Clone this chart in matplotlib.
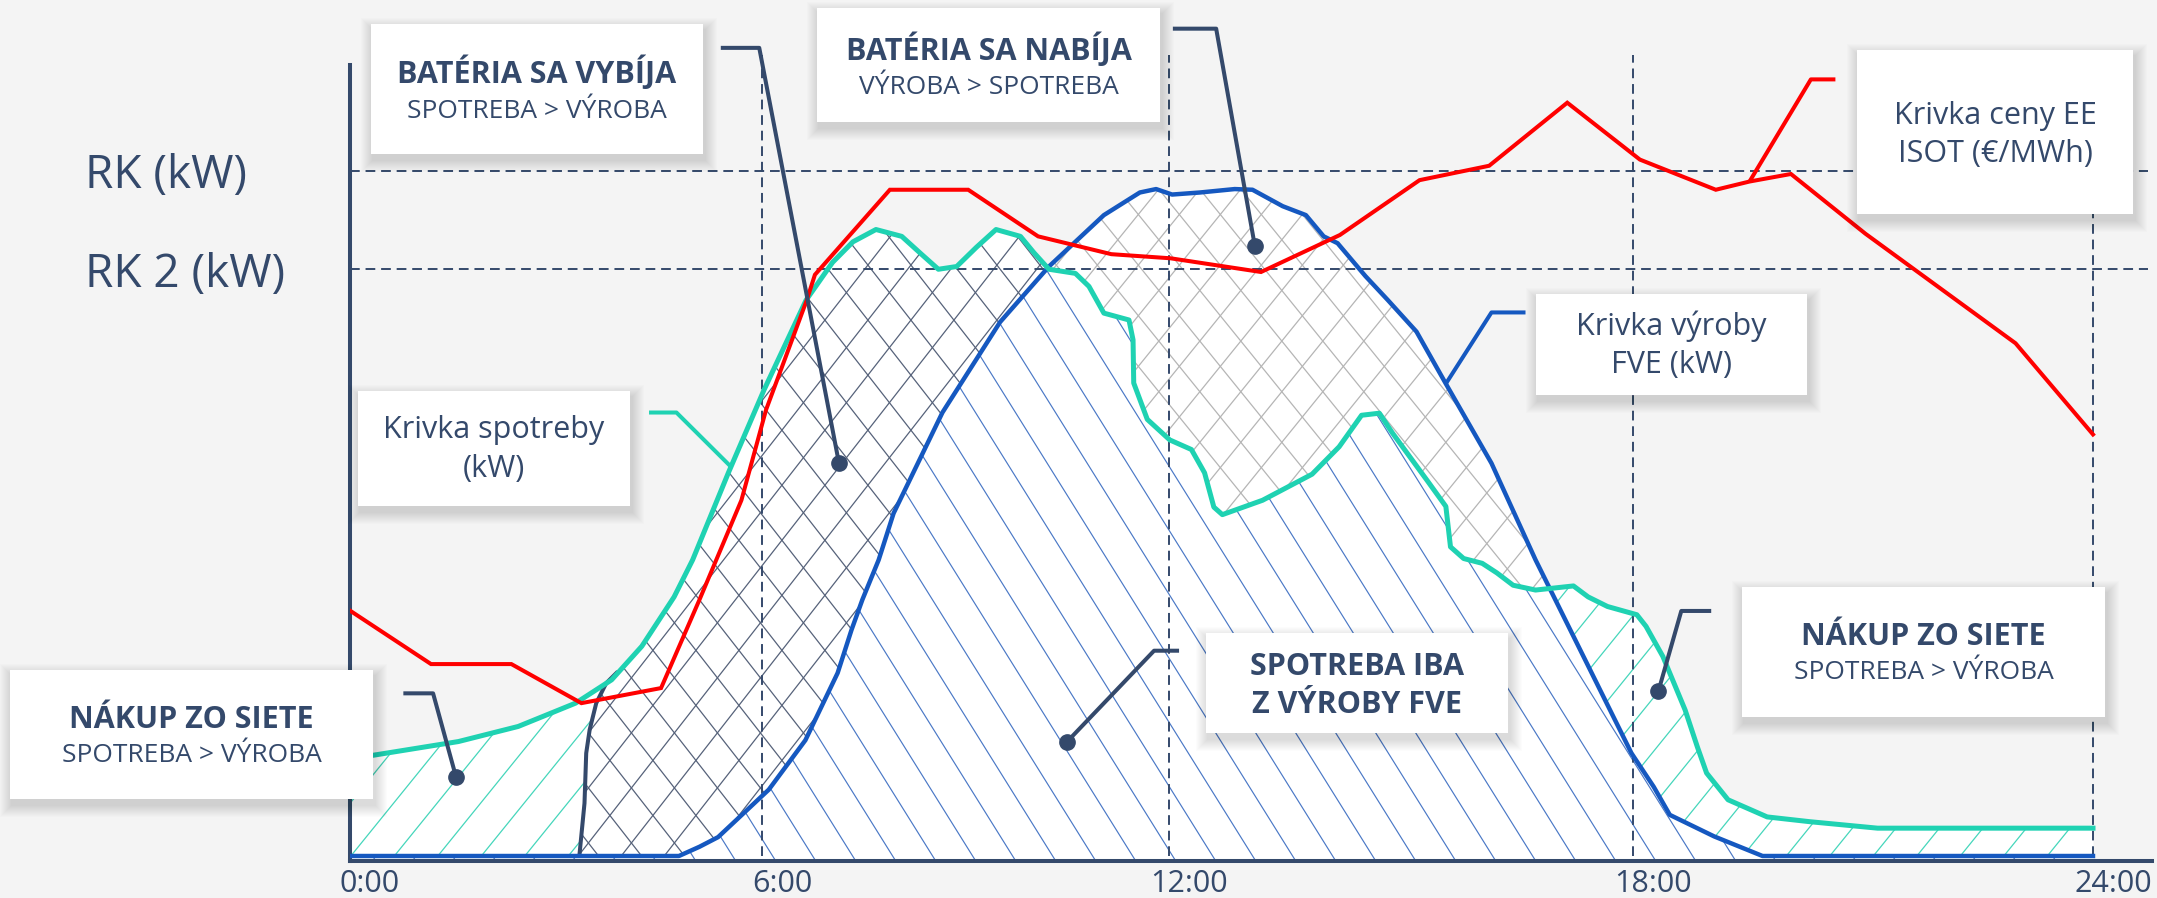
import numpy as np
import matplotlib
matplotlib.use("Agg")
import matplotlib.pyplot as plt
from matplotlib.patches import Rectangle, PathPatch
from matplotlib.path import Path
from matplotlib.collections import LineCollection
from matplotlib.transforms import IdentityTransform

plt.rcParams['font.family'] = ['Open Sans', 'DejaVu Sans']

# ------------------------------------------------------------------ data
hours_ticks = [0, 6, 12, 18, 24]
tick_labels = ["0:00", "6:00", "12:00", "18:00", "24:00"]
RK = 100.0
RK2 = 85.6
ref_labels = ["RK (kW)", "RK 2 (kW)"]

# consumption curve (kW, RK = 100)
cons_h = [0.0, 0.34, 1.58, 2.45, 3.285, 3.81, 4.25, 4.72, 4.99, 5.51, 6.03, 6.65, 7.04, 7.34, 7.68,
          8.06, 8.35, 8.60, 8.87, 9.16, 9.45, 9.81, 10.01, 10.23, 10.62, 10.82, 11.04, 11.41, 11.47,
          11.48, 11.68, 12.01, 12.29, 12.46, 12.58, 12.69, 13.21, 13.85, 14.20, 14.49, 14.72, 14.89,
          15.35, 15.58, 15.64, 15.81, 16.05, 16.24, 16.45, 16.74, 17.23, 17.42, 17.67, 18.05, 18.17,
          18.39, 18.68, 18.84, 18.96, 19.24, 19.75, 20.31, 21.19, 24.0]
cons_v = [14.5, 14.7, 16.7, 18.9, 22.3, 25.7, 30.6, 37.8, 43.2, 55.9, 68.0, 81.1, 86.6, 89.6, 91.4,
          90.4, 87.8, 85.6, 86.0, 88.8, 91.4, 90.4, 88.0, 85.6, 85.0, 83.1, 79.2, 78.2, 75.3,
          69.0, 63.7, 60.7, 59.3, 55.9, 50.9, 49.8, 51.9, 55.7, 59.7, 64.3, 64.6, 61.7,
          54.6, 51.0, 45.1, 43.4, 42.7, 41.3, 39.5, 38.8, 39.4, 37.8, 36.4, 35.2, 33.5,
          29.1, 21.3, 15.9, 12.1, 8.2, 5.7, 5.0, 4.06, 4.06]

# PV production curve
pv_h = [0.0, 4.79, 5.09, 5.36, 6.10, 6.64, 7.115, 7.32, 7.48, 7.72, 7.94, 8.66, 9.51, 10.23, 11.04,
        11.57, 11.81, 12.04, 12.40, 12.85, 13.08, 13.47, 13.77, 14.00, 14.18, 14.54, 14.83, 15.20,
        15.58, 16.17, 16.74, 17.98, 18.27, 18.48, 19.06, 19.69, 24.0]
pv_v = [0.0, 0.0, 1.35, 2.75, 9.68, 16.9, 26.7, 33.0, 37.4, 43.2, 50.0, 64.7, 77.9, 86.0, 93.5,
        96.8, 97.3, 96.5, 96.8, 97.3, 97.2, 94.8, 93.5, 90.4, 89.4, 84.6, 81.1, 76.5,
        68.9, 57.3, 43.2, 15.0, 10.1, 6.0, 2.85, 0.0, 0.0]

# price curve (schematic, same scale)
price_h = [0.0, 1.18, 2.35, 3.37, 4.53, 5.09, 5.70, 6.06, 6.66, 6.78, 7.885, 9.04, 10.07, 11.15,
           12.02, 13.19, 14.21, 15.24, 16.14, 17.15, 18.09, 19.08, 19.52, 20.06, 21.03, 22.99, 24.0]
price_v = [35.8, 28.0, 28.0, 22.3, 24.5, 37.4, 51.9, 65.1, 81.1, 84.8, 97.2, 97.2, 90.4, 87.8,
           87.2, 85.2, 90.6, 98.6, 100.7, 109.9, 101.6, 97.2, 98.4, 99.5, 90.8, 74.8, 61.5]

# battery discharge start boundary
batt_h = [3.34, 3.415, 3.44, 3.49, 3.586, 3.73, 3.90]
batt_v = [0.0, 7.7, 15.0, 18.4, 22.3, 25.2, 26.9]

# leader lines (data coords)
lead_vybija = [(5.40, 117.9), (5.96, 117.9), (7.135, 57.3)]
lead_nabija = [(12.05, 120.7), (12.61, 120.7), (13.11, 89.0)]
lead_nakup_l = [(0.777, 23.73), (1.21, 23.73), (1.545, 11.5)]
lead_fve = [(12.13, 29.95), (11.78, 29.95), (10.50, 16.7)]
lead_nakup_r = [(19.02, 35.75), (18.63, 35.75), (18.33, 24.0)]
lead_cons = [(4.355, 64.7), (4.754, 64.7), (5.547, 56.8)]
lead_pv = [(16.61, 79.3), (16.17, 79.3), (15.58, 68.9)]
lead_price = [(20.64, 113.3), (20.32, 113.3), (19.52, 98.4)]

# ------------------------------------------------------------------ layout / style
W, H = 2157, 898
DPI = 100
NAVY = "#34496b"
TEAL = "#1fd2b2"
BLUE = "#1558c0"
RED = "#ff0000"
BG = "#f4f4f4"

AX_H = np.array([0, 6, 12, 18, 24], float)
AX_P = np.array([0, 412, 819, 1283, 1743], float)
SLOPE_END = (AX_P[-1] - AX_P[-2]) / 6.0
SLOPE_START = AX_P[1] / 6.0


def fwd(x):
    x = np.asarray(x, float)
    y = np.interp(x, AX_H, AX_P)
    y = np.where(x > 24, AX_P[-1] + (x - 24) * SLOPE_END, y)
    y = np.where(x < 0, x * SLOPE_START, y)
    return y


def inv(p):
    p = np.asarray(p, float)
    x = np.interp(p, AX_P, AX_H)
    x = np.where(p > AX_P[-1], 24 + (p - AX_P[-1]) / SLOPE_END, x)
    x = np.where(p < 0, p / SLOPE_START, x)
    return x


fig = plt.figure(figsize=(W / DPI, H / DPI), dpi=DPI, facecolor=BG)
AX_LEFT, AX_RIGHT, AX_TOP, AX_BOTTOM = 350, 2152, 65, 861
ax = fig.add_axes([AX_LEFT / W, 1 - AX_BOTTOM / H, (AX_RIGHT - AX_LEFT) / W, (AX_BOTTOM - AX_TOP) / H])
ax.set_facecolor('none')
ax.set_xscale('function', functions=(fwd, inv))
Y_BOT, Y_TOP = -0.73, 115.4
X_RIGHT = 24 + (AX_RIGHT - AX_LEFT - AX_P[-1]) / SLOPE_END
ax.set_xlim(0, X_RIGHT)
ax.set_ylim(Y_BOT, Y_TOP)
ax.autoscale(False)

for s in ('top', 'right'):
    ax.spines[s].set_visible(False)
for s in ('left', 'bottom'):
    ax.spines[s].set_color(NAVY)
    ax.spines[s].set_linewidth(2.9)
ax.set_xticks([])
ax.set_yticks([])

# ------------------------------------------------------------------ regions
hh = np.union1d(np.linspace(0, 24, 4801), np.union1d(cons_h, pv_h))
T = np.interp(hh, cons_h, cons_v)
B = np.interp(hh, pv_h, pv_v)
d = T - B
pos = d > 0
ch = np.where(pos[:-1] != pos[1:])[0]


def cross(i):
    return hh[i] + (hh[i + 1] - hh[i]) * d[i] / (d[i] - d[i + 1])


c1, c2 = cross(ch[0]), cross(ch[1])


def piece(V, a, b):
    m = (hh > a) & (hh < b)
    xs = np.concatenate([[a], hh[m], [b]])
    ys = np.concatenate([[np.interp(a, hh, V)], V[m], [np.interp(b, hh, V)]])
    return np.column_stack([xs, ys])


nav = np.column_stack([batt_h, batt_v])
poly_teal_l = np.vstack([[[0, 0]], nav, piece(T, 0, batt_h[-1])[::-1]])
poly_dark = np.vstack([nav, piece(T, batt_h[-1], c1), piece(B, batt_h[0], c1)[::-1]])
poly_grey = np.vstack([piece(T, c1, c2), piece(B, c1, c2)[::-1]])
poly_teal_r = np.vstack([piece(B, c2, 24), piece(T, c2, 24)[::-1]])
poly_blue = np.vstack([np.column_stack([hh, np.minimum(T, B)]), [[24, Y_BOT], [0, Y_BOT]]])

ax.fill_between(hh, Y_BOT, np.maximum(T, B), color='white', lw=0, zorder=1)


def hatch(verts, angle, spacing, color, lw, dirs, z=1.5):
    verts = np.vstack([verts, verts[:1]])
    codes = [Path.MOVETO] + [Path.LINETO] * (len(verts) - 2) + [Path.CLOSEPOLY]
    patch = PathPatch(Path(verts, codes), transform=ax.transData, facecolor='none', edgecolor='none')
    ax.add_patch(patch)
    t = np.tan(np.radians(angle))
    ext = H / t
    segs = []
    for dr in dirs:
        for x0 in np.arange(-ext - spacing, W + ext + spacing, spacing):
            segs.append([(x0, 0), (x0 + dr * ext, H)])
    lc = LineCollection(segs, colors=color, linewidths=lw, transform=IdentityTransform(), zorder=z)
    lc.set_clip_path(patch)
    ax.add_collection(lc, autolim=False)


hatch(poly_blue, 58, 40, "#4a78c6", 0.85, [-1])
hatch(poly_teal_l, 51, 43.5, "#45d6bb", 0.9, [1])
hatch(poly_teal_r, 51, 43.5, "#45d6bb", 0.9, [1])
hatch(poly_dark, 52, 43, "#56627a", 0.9, [1, -1])
hatch(poly_grey, 51, 41, "#b5b5b5", 0.9, [1, -1])

# ------------------------------------------------------------------ grid
dash = (0, (5, 3))
V_TOP = 116.9
for h in hours_ticks[1:]:
    ax.plot([h, h], [0, V_TOP], color=NAVY, lw=1.4, ls=dash, zorder=2, clip_on=False)
for v in (RK, RK2):
    ax.plot([0, X_RIGHT - 0.05], [v, v], color=NAVY, lw=1.4, ls=dash, zorder=2, clip_on=False)

# ------------------------------------------------------------------ curves
ax.plot(batt_h, batt_v, color=NAVY, lw=2.9, zorder=3, solid_capstyle='butt')
ax.plot(pv_h, pv_v, color=BLUE, lw=3.2, zorder=3.2, solid_joinstyle='round')
ax.plot(cons_h, cons_v, color=TEAL, lw=3.6, zorder=3.4, solid_joinstyle='round')
ax.plot(price_h, price_v, color=RED, lw=2.9, zorder=4, solid_joinstyle='miter')

# ------------------------------------------------------------------ leaders
for lead in (lead_vybija, lead_nabija, lead_nakup_l, lead_fve, lead_nakup_r):
    xs, ys = zip(*lead)
    ax.plot(xs, ys, color=NAVY, lw=2.9, zorder=5, clip_on=False, solid_capstyle='butt')
    ax.plot(xs[-1], ys[-1], 'o', ms=11, color=NAVY, zorder=5, clip_on=False)
for lead, col in ((lead_cons, TEAL), (lead_pv, BLUE), (lead_price, RED)):
    xs, ys = zip(*lead)
    ax.plot(xs, ys, color=col, lw=2.9, zorder=5, clip_on=False, solid_capstyle='butt')

# ------------------------------------------------------------------ axis labels
for h, lab in zip(hours_ticks, tick_labels):
    ax.annotate(lab, xy=(h, H - 891.7), xycoords=('data', 'figure pixels'), xytext=(20, 0),
                textcoords='offset pixels', ha='center', va='baseline', fontsize=22,
                color=NAVY, annotation_clip=False)
for v, lab in zip((RK, RK2), ref_labels):
    ax.annotate(lab, xy=(85, v), xycoords=('figure pixels', 'data'), xytext=(0, -17.3),
                textcoords='offset pixels', ha='left', va='baseline', fontsize=33,
                color=NAVY, annotation_clip=False)

# ------------------------------------------------------------------ boxes
boxes = [
    ((371, 24, 703, 154), [("BATÉRIA SA VYBÍJA", 83, 22, 'bold'), ("SPOTREBA > VÝROBA", 118, 19, 'normal')]),
    ((817, 8, 1160, 122), [("BATÉRIA SA NABÍJA", 60, 22, 'bold'), ("VÝROBA > SPOTREBA", 94, 19, 'normal')]),
    ((1857, 50, 2133, 214), [("Krivka ceny EE", 124, 22, 'normal'), ("ISOT (€/MWh)", 162, 22, 'normal')]),
    ((1536, 294, 1807, 395), [("Krivka výroby", 335, 22, 'normal'), ("FVE (kW)", 373, 22, 'normal')]),
    ((358, 391, 630, 506), [("Krivka spotreby", 438, 22, 'normal'), ("(kW)", 477, 22, 'normal')]),
    ((10, 670, 373, 799), [("NÁKUP ZO SIETE", 728, 22, 'bold'), ("SPOTREBA > VÝROBA", 762, 19, 'normal')]),
    ((1206, 633, 1508, 733), [("SPOTREBA IBA", 675, 22, 'bold'), ("Z VÝROBY FVE", 713, 22, 'bold')]),
    ((1742, 587, 2105, 717), [("NÁKUP ZO SIETE", 645, 22, 'bold'), ("SPOTREBA > VÝROBA", 679, 19, 'normal')]),
]

for (x0, y0, x1, y1), lines in boxes:
    for k in range(12, 0, -1):
        fig.add_artist(Rectangle((x0 + 2 - k, H - y1 - 6 - k), (x1 - x0) + 2 * k, (y1 - y0) + 2 * k,
                                 transform=IdentityTransform(), facecolor='black', edgecolor='none',
                                 alpha=0.012, zorder=1))
    fig.add_artist(Rectangle((x0, H - y1), x1 - x0, y1 - y0, transform=IdentityTransform(),
                             facecolor='white', edgecolor='none', zorder=2))
    cx = (x0 + x1) / 2
    for txt, base, fs, fw in lines:
        fig.text(cx / W, 1 - base / H, txt, ha='center', va='baseline', fontsize=fs,
                 fontweight=fw, color=NAVY, zorder=3)

fig.savefig("out.png", dpi=DPI, facecolor=BG)
